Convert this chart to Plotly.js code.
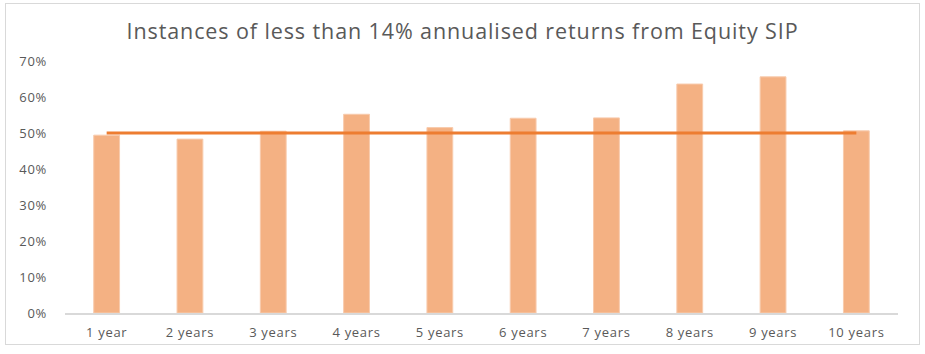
<!DOCTYPE html>
<html><head><meta charset="utf-8">
<script src="https://cdn.plot.ly/plotly-3.0.1.min.js"></script>
<style>
html,body{margin:0;padding:0;background:#fff;}
#wrap{position:relative;width:925px;height:354px;}
#chart{width:925px;height:354px;}
#frame{position:absolute;left:5px;top:3px;width:913px;height:340px;border:1.5px solid #d9d9d9;pointer-events:none;}
#chart .gtitle{letter-spacing:0.9px;}
#chart .xtick text, #chart .ytick text{letter-spacing:0.7px;}
</style></head>
<body>
<div id="wrap"><div id="chart"></div><div id="frame"></div></div>
<script>
const categories = ['1 year','2 years','3 years','4 years','5 years','6 years','7 years','8 years','9 years','10 years'];
const shareBelow14 = [0.494, 0.483, 0.505, 0.552, 0.515, 0.541, 0.542, 0.636, 0.656, 0.506];
const benchmark = [0.5,0.5,0.5,0.5,0.5,0.5,0.5,0.5,0.5,0.5];
const yTicks = [0,0.1,0.2,0.3,0.4,0.5,0.6,0.7];

const font = '"Open Sans", Lato, sans-serif';
Plotly.newPlot('chart', [
  {type:'bar', x:categories, y:shareBelow14, width:0.31,
   marker:{color:'#F4B183', line:{color:'#F8CBAD', width:1}}, hoverinfo:'x+y'},
  {type:'scatter', mode:'lines', x:categories, y:benchmark,
   line:{color:'#ED7D31', width:3}}
], {
  width:925, height:354,
  margin:{l:65, r:27, t:61, b:41},
  paper_bgcolor:'#fff', plot_bgcolor:'#fff',
  showlegend:false,
  title:{text:'Instances of less than 14% annualised returns from Equity SIP',
         font:{family:font, size:21.5, color:'#595959'}, x:0.5, xanchor:'center', y:0.912, yanchor:'middle'},
  xaxis:{type:'category', showgrid:false, showline:true, linecolor:'#d9d9d9', linewidth:1.5,
         ticks:'', tickfont:{family:font, size:13, color:'#595959'}, ticklabelstandoff:7, zeroline:false},
  yaxis:{range:[0,0.7], tickvals:yTicks, tickformat:'.0%', showgrid:false, zeroline:false, showline:false,
         ticks:'', tickfont:{family:font, size:13, color:'#595959'}, ticklabelstandoff:17}
}, {displayModeBar:false, staticPlot:true});
</script>
</body></html>
